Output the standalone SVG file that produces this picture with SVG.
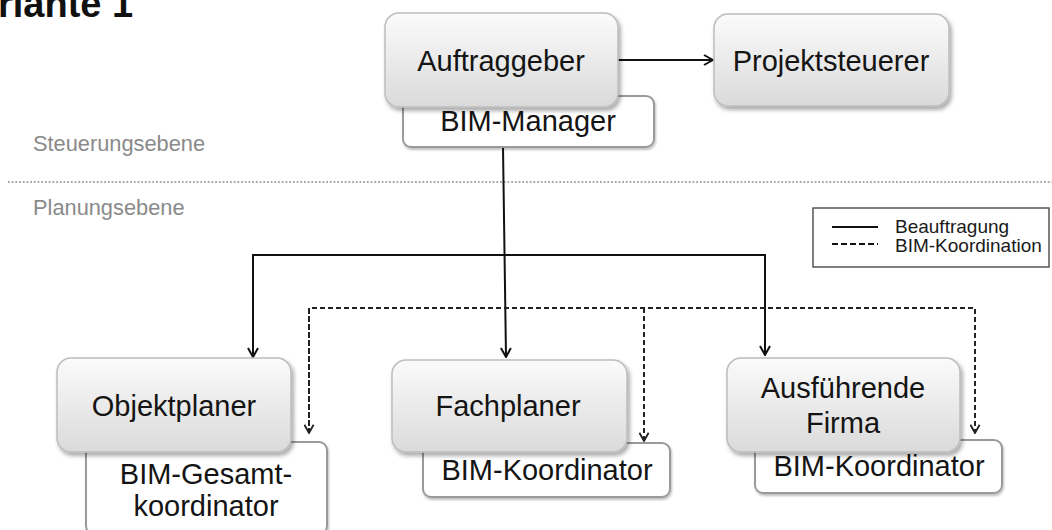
<svg xmlns="http://www.w3.org/2000/svg" width="1052" height="530" viewBox="0 0 1052 530">
  <defs>
    <linearGradient id="boxFill" x1="0" y1="0" x2="0" y2="1">
      <stop offset="0" stop-color="#fbfbfb"/>
      <stop offset="1" stop-color="#dadada"/>
    </linearGradient>
    <filter id="shadow" x="-10%" y="-10%" width="125%" height="135%">
      <feDropShadow dx="2" dy="3" stdDeviation="2" flood-color="#000" flood-opacity="0.35"/>
    </filter>
    <filter id="softShadow" x="-10%" y="-10%" width="125%" height="135%">
      <feDropShadow dx="1" dy="2" stdDeviation="1.2" flood-color="#000" flood-opacity="0.25"/>
    </filter>
    <marker id="arrow" viewBox="0 0 12 12" refX="11" refY="6" markerWidth="12" markerHeight="12" markerUnits="userSpaceOnUse" orient="auto">
      <path d="M2,1 L11,6 L2,11" fill="none" stroke="#111" stroke-width="2"/>
    </marker>
    <marker id="arrowDash" viewBox="0 0 12 12" refX="11" refY="6" markerWidth="11" markerHeight="11" markerUnits="userSpaceOnUse" orient="auto">
      <path d="M2,1 L11,6 L2,11" fill="none" stroke="#222" stroke-width="2"/>
    </marker>
  </defs>
  <style>
    .main { fill: url(#boxFill); stroke: #bdbdbd; stroke-width: 1.5; filter: url(#shadow); }
    .sub { fill: #ffffff; stroke: #9a9a9a; stroke-width: 2; filter: url(#softShadow); }
    .lbl { font-family: "Liberation Sans", Arial, sans-serif; font-size: 29px; fill: #141414; text-anchor: middle; }
    .level { font-family: "Liberation Sans", Arial, sans-serif; font-size: 21.8px; fill: #8a8a8a; }
    .legend { font-family: "Liberation Sans", Arial, sans-serif; font-size: 19px; fill: #1a1a1a; }
    .solid { fill: none; stroke: #111; stroke-width: 2; }
    .dash { fill: none; stroke: #222; stroke-width: 2; stroke-dasharray: 5 3; }
  </style>

  <rect width="1052" height="530" fill="#ffffff"/>

  <!-- heading -->
  <text x="-2" y="17" font-family="'Liberation Sans', Arial, sans-serif" font-size="38" font-weight="bold" fill="#111">riante 1</text>

  <!-- level labels and separator -->
  <text class="level" x="33" y="151">Steuerungsebene</text>
  <line x1="8" y1="182" x2="1052" y2="182" stroke="#8c8c8c" stroke-width="1.6" stroke-dasharray="1.8 1.9"/>
  <text class="level" x="33" y="215">Planungsebene</text>

  <!-- legend -->
  <g id="legend">
    <rect x="813" y="208" width="236" height="59" fill="#fff" stroke="#555" stroke-width="1.5"/>
    <line x1="832" y1="227" x2="878" y2="227" stroke="#111" stroke-width="2"/>
    <line x1="832" y1="244" x2="878" y2="244" stroke="#111" stroke-width="2" stroke-dasharray="6 3"/>
    <text class="legend" x="895" y="233">Beauftragung</text>
    <text class="legend" x="895" y="252">BIM-Koordination</text>
  </g>

  <!-- connectors -->
  <g id="connectors">
    <line class="solid" x1="618" y1="60" x2="713" y2="60" marker-end="url(#arrow)"/>
    <line class="solid" x1="503" y1="147" x2="506" y2="357" marker-end="url(#arrow)"/>
    <polyline class="solid" points="253,357 253,255 765,255 765,355" marker-end="url(#arrow)"/>
    <path class="solid" d="M253,256 L253,357" marker-end="url(#arrow)"/>
    <polyline class="dash" points="309,433 309,308 975,308 975,433"/>
    <path class="dash" d="M309,309 L309,433" marker-end="url(#arrowDash)"/>
    <path class="dash" d="M975,309 L975,433" marker-end="url(#arrowDash)"/>
    <path class="dash" d="M644,308 L644,441" marker-end="url(#arrowDash)"/>
  </g>

  <!-- Auftraggeber with BIM-Manager -->
  <g id="auftraggeber">
    <rect class="sub" x="403" y="96" width="251" height="51" rx="8"/>
    <text class="lbl" x="528" y="131">BIM-Manager</text>
    <rect class="main" x="385" y="13" width="233" height="94" rx="14"/>
    <text class="lbl" x="501" y="71">Auftraggeber</text>
  </g>

  <g id="projektsteuerer">
    <rect class="main" x="714" y="14" width="235" height="92" rx="14"/>
    <text class="lbl" x="831" y="71">Projektsteuerer</text>
  </g>

  <g id="objektplaner">
    <rect class="sub" x="86" y="442" width="241" height="92" rx="8"/>
    <text class="lbl" x="206" y="484">BIM-Gesamt-</text>
    <text class="lbl" x="206" y="516">koordinator</text>
    <rect class="main" x="57" y="358" width="234" height="94" rx="14"/>
    <text class="lbl" x="174" y="416">Objektplaner</text>
  </g>

  <g id="fachplaner">
    <rect class="sub" x="423" y="443" width="247" height="54" rx="8"/>
    <text class="lbl" x="547" y="480">BIM-Koordinator</text>
    <rect class="main" x="392" y="360" width="235" height="92" rx="14"/>
    <text class="lbl" x="508" y="416">Fachplaner</text>
  </g>

  <g id="ausfuehrende-firma">
    <rect class="sub" x="755" y="440" width="247" height="53" rx="8"/>
    <text class="lbl" x="879" y="476">BIM-Koordinator</text>
    <rect class="main" x="727" y="358" width="233" height="94" rx="14"/>
    <text class="lbl" x="843" y="398">Ausführende</text>
    <text class="lbl" x="843" y="433">Firma</text>
  </g>
</svg>
